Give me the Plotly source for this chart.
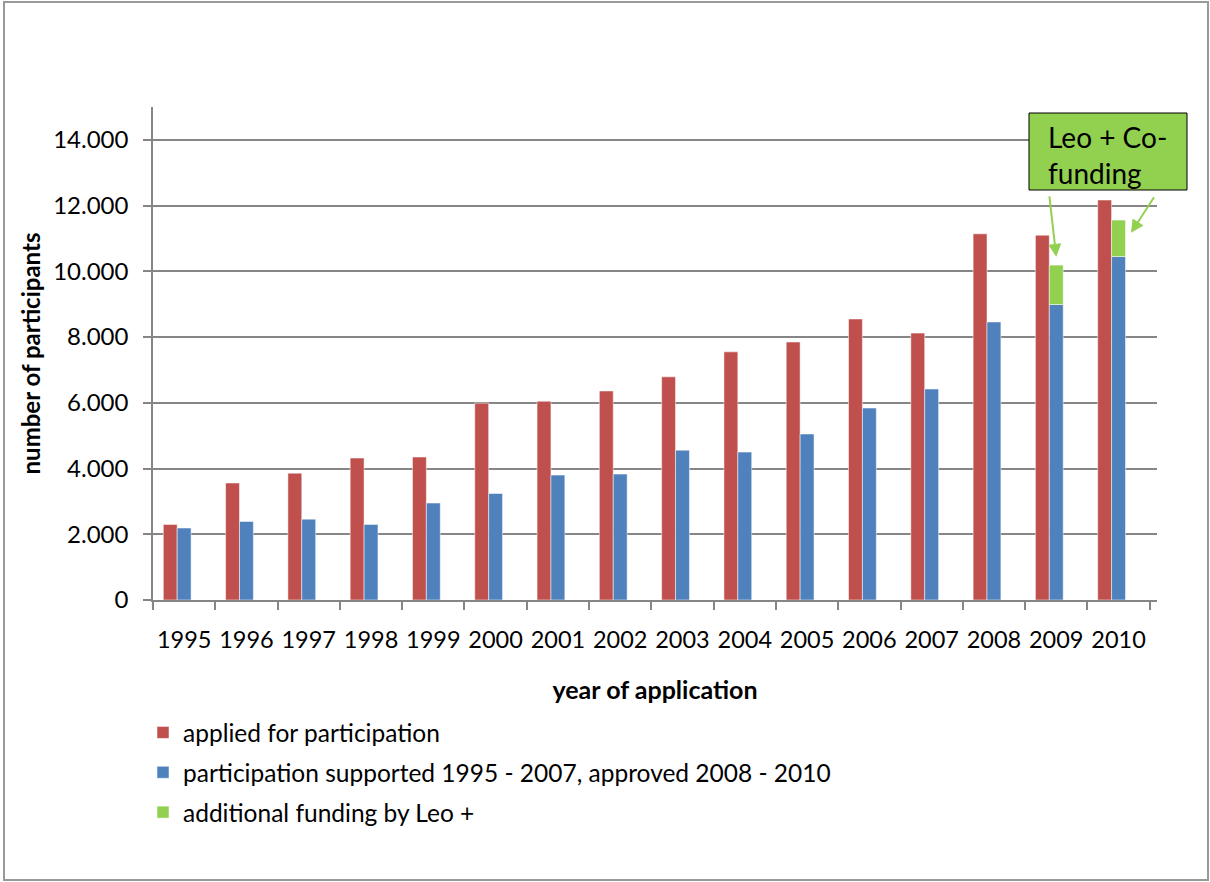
import plotly.graph_objects as go

years = ["1995", "1996", "1997", "1998", "1999", "2000", "2001", "2002",
         "2003", "2004", "2005", "2006", "2007", "2008", "2009", "2010"]
applied = [2300, 3560, 3860, 4320, 4350, 5990, 6050, 6360,
           6790, 7550, 7850, 8550, 8120, 11140, 11100, 12170]
supported = [2190, 2390, 2460, 2300, 2950, 3240, 3800, 3830,
             4560, 4500, 5050, 5840, 6420, 8460, 8990, 10450]
leo_extra = [None] * 14 + [1200, 1110]

series_names = ["applied for participation",
                "participation supported 1995 - 2007, approved 2008 - 2010",
                "additional funding by Leo +"]

RED, BLUE, GREEN = "#C0504D", "#4F81BD", "#92D050"
FONT = "Lato"
W, H = 1210, 882
L, R, T, B = 153, 53, 107, 282
PW, PH = W - L - R, H - T - B

def px_x(p):
    return (p - L) / PW

def px_y(p):
    return (H - B - p) / PH

bw = 14 / 62.75
edge = dict(color="rgba(255,255,255,0.5)", width=1)
fig = go.Figure()
fig.add_bar(x=years, y=applied, name=series_names[0], marker_color=RED,
            width=bw, offset=-1.5 * bw, legendgroup="a", marker_line=edge)
fig.add_bar(x=years, y=supported, name=series_names[1], marker_color=BLUE,
            width=bw, offset=-0.5 * bw, legendgroup="b", marker_line=edge)
fig.add_bar(x=years, y=leo_extra, base=supported, name=series_names[2],
            marker_color=GREEN, width=bw, offset=-0.5 * bw, legendgroup="c",
            marker_line=edge)

grid = "#868686"
fig.update_layout(
    width=W, height=H,
    margin=dict(l=L, r=R, t=T, b=B, autoexpand=False),
    plot_bgcolor="white", paper_bgcolor="white",
    barmode="overlay",
    separators=",.",
    font=dict(family=FONT, size=24, color="black"),
    showlegend=True,
    legend=dict(x=px_x(143), y=px_y(710), xanchor="left", yanchor="top",
                orientation="v", traceorder="grouped", tracegroupgap=5,
                font=dict(family=FONT, size=24.5, color="black"),
                bgcolor="rgba(0,0,0,0)"),
    xaxis=dict(type="category", showline=True, linecolor=grid, linewidth=1.5,
               ticks="outside", tickson="boundaries", ticklen=8, tickcolor=grid,
               tickwidth=1.5, showgrid=False, automargin=False, tickangle=0,
               ticklabelstandoff=18,
               tickfont=dict(family=FONT, size=23.5),
               title=dict(text="<b>year of application</b>", standoff=30,
                          font=dict(family=FONT, size=25))),
    yaxis=dict(range=[0, 15000], tick0=0, dtick=2000, tickformat=",d",
               showline=True, linecolor=grid, linewidth=1.5,
               ticks="outside", ticklen=8, tickcolor=grid, tickwidth=1.5,
               showgrid=True, gridcolor=grid, gridwidth=1.5, zeroline=False,
               automargin=False, ticklabelstandoff=10,
               tickfont=dict(family=FONT, size=24),
               title=dict(text="<b>number of participants</b>", standoff=6,
                          font=dict(family=FONT, size=24))),
)

# Outer chart border
fig.add_shape(type="rect", xref="paper", yref="paper",
              x0=px_x(4), x1=px_x(1208), y0=px_y(880), y1=px_y(2),
              line=dict(color="#999999", width=2), layer="below")

# Callout box
fig.add_shape(type="rect", xref="paper", yref="paper",
              x0=px_x(1029), x1=px_x(1187), y0=px_y(190), y1=px_y(113),
              line=dict(color="black", width=1), fillcolor=GREEN)
fig.add_annotation(xref="paper", yref="paper", x=px_x(1046), y=px_y(155),
                   xanchor="left", yanchor="middle", align="left",
                   text="Leo + Co-<br>funding",
                   showarrow=False, font=dict(family=FONT, size=28, color="black"))

# Arrows
i09, i10 = 14, 15
fig.add_annotation(x=i09, y=supported[i09] + leo_extra[i09] + 250, xref="x", yref="y",
                   text="", showarrow=True, ax=-7, ay=-62, axref="pixel", ayref="pixel",
                   arrowhead=2, arrowsize=1.3, arrowwidth=2, arrowcolor=GREEN)
fig.add_annotation(x=i10 + 0.2, y=supported[i10] + leo_extra[i10] * 0.65, xref="x", yref="y",
                   text="", showarrow=True, ax=24, ay=-37, axref="pixel", ayref="pixel",
                   arrowhead=2, arrowsize=1.3, arrowwidth=2, arrowcolor=GREEN)

fig.write_html("out.html", config={"displayModeBar": False},
               post_script="document.body.style.margin='0';")
